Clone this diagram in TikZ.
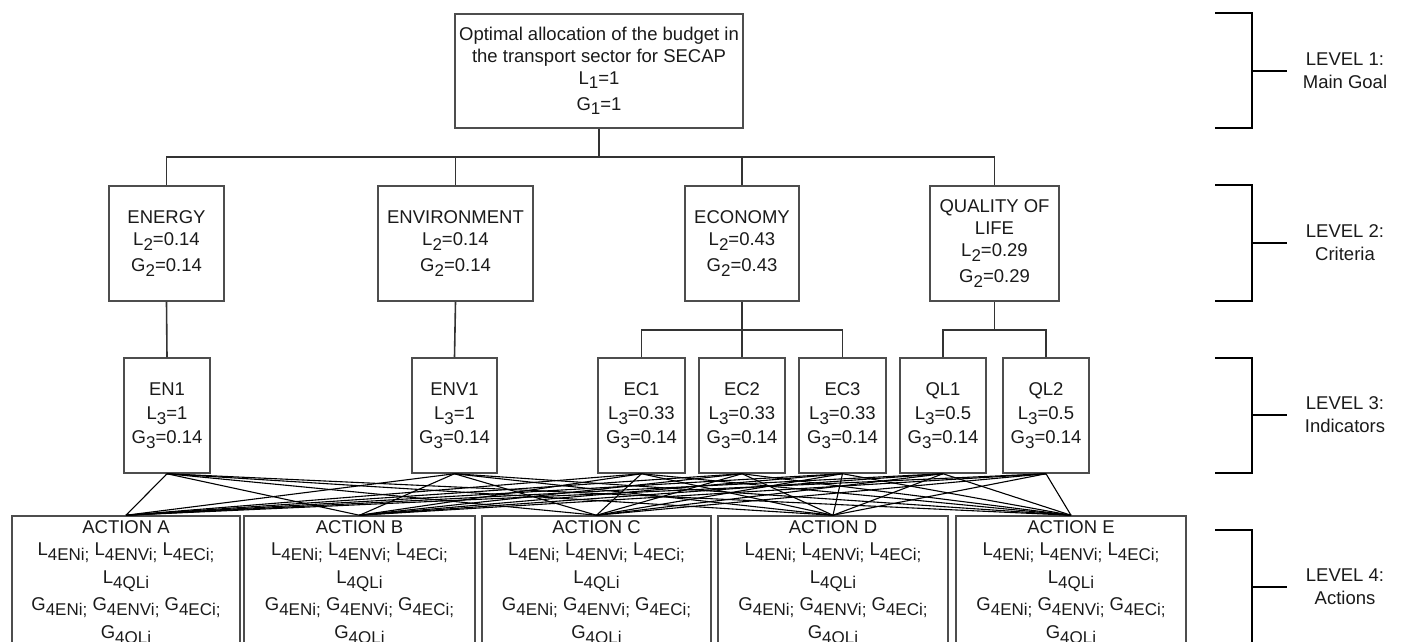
\documentclass[tikz,border=0pt]{standalone}
\usepackage{fontspec}
\setmainfont{Liberation Sans}
\definecolor{boxgray}{HTML}{4D4D4D}
\definecolor{linegray}{HTML}{333333}
\definecolor{txt}{HTML}{1A1A1A}
\newcommand\sbx[1]{\raisebox{-4.5pt}{\fontsize{17}{17}\selectfont #1}}
\newcommand\acttxt[1]{ACTION #1\\L\sbx{4ENi;} L\sbx{4ENVi;} L\sbx{4ECi;}\\[6pt]L\sbx{4QLi}\\[5pt]G\sbx{4ENi;} G\sbx{4ENVi;} G\sbx{4ECi;}\\[6pt]G\sbx{4QLi}}
\begin{document}
\begin{tikzpicture}[x=1pt,y=-1pt,
  box/.style={draw=boxgray, line width=1.5pt, rectangle, inner sep=0pt, align=center, text=txt, font=\fontsize{18.5}{22}\selectfont},
  lvtwo/.style={box, minimum width=#1, minimum height=115pt},
  lvthree/.style={box, minimum width=#1, minimum height=115pt},
  actbox/.style={box, minimum width=#1, minimum height=135pt},
  tree/.style={draw=linegray, line width=1.6pt},
  mesh/.style={draw=black, line width=1.1pt},
  brk/.style={draw=black, line width=2.4pt},
  lvl/.style={align=center, text=txt, font=\fontsize{18.5}{23}\selectfont}]
\useasboundingbox (0,0) rectangle (1401,642);
\clip (0,0) rectangle (1401,642);

% Level 1
\node[box, minimum width=288pt, minimum height=114pt] (goal) at (599,71)
  {Optimal allocation of the budget in\\the transport sector for SECAP\\L\sbx{1}=1\\[4pt]G\sbx{1}=1};

% Level 2
\node[lvtwo=115pt] (energy) at (166.5,243.5) {ENERGY\\L\sbx{2}=0.14\\[4pt]G\sbx{2}=0.14};
\node[lvtwo=155pt] (env) at (455.5,243.5) {ENVIRONMENT\\L\sbx{2}=0.14\\[4pt]G\sbx{2}=0.14};
\node[lvtwo=114pt] (econ) at (742,243.5) {ECONOMY\\L\sbx{2}=0.43\\[4pt]G\sbx{2}=0.43};
\node[lvtwo=129pt] (qol) at (994.5,243.5) {QUALITY OF\\LIFE\\L\sbx{2}=0.29\\[4pt]G\sbx{2}=0.29};

% Level 3
\node[lvthree=86pt] (en1) at (167,415.5) {EN1\\[2pt]L\sbx{3}=1\\[2pt]G\sbx{3}=0.14};
\node[lvthree=85pt] (env1) at (454.5,415.5) {ENV1\\[2pt]L\sbx{3}=1\\[2pt]G\sbx{3}=0.14};
\node[lvthree=87pt] (ec1) at (641.5,415.5) {EC1\\[2pt]L\sbx{3}=0.33\\[2pt]G\sbx{3}=0.14};
\node[lvthree=86pt] (ec2) at (742,415.5) {EC2\\[2pt]L\sbx{3}=0.33\\[2pt]G\sbx{3}=0.14};
\node[lvthree=87pt] (ec3) at (842.5,415.5) {EC3\\[2pt]L\sbx{3}=0.33\\[2pt]G\sbx{3}=0.14};
\node[lvthree=86pt] (ql1) at (943,415.5) {QL1\\[2pt]L\sbx{3}=0.5\\[2pt]G\sbx{3}=0.14};
\node[lvthree=86pt] (ql2) at (1046,415.5) {QL2\\[2pt]L\sbx{3}=0.5\\[2pt]G\sbx{3}=0.14};

% Level 4
\node[actbox=228pt] (aa) at (126,583.5) {\acttxt{A}};
\node[actbox=231pt] (ab) at (359.5,583.5) {\acttxt{B}};
\node[actbox=229pt] (ac) at (596.5,583.5) {\acttxt{C}};
\node[actbox=230pt] (ad) at (833,583.5) {\acttxt{D}};
\node[actbox=230pt] (ae) at (1071,583.5) {\acttxt{E}};

% Tree connectors
\coordinate (bus) at (599,157);
\draw[tree] (goal.south) -- (bus);
\draw[tree] (energy.north) |- (bus);
\draw[tree] (env.north) |- (bus);
\draw[tree] (econ.north) |- (bus);
\draw[tree] (qol.north) |- (bus);
\draw[tree] (energy.south) -- (en1.north);
\draw[tree] (env.south) -- (env1.north);
\coordinate (busE) at (742,330);
\draw[tree] (econ.south) -- (busE);
\draw[tree] (ec1.north) |- (busE);
\draw[tree] (ec2.north) -- (busE);
\draw[tree] (ec3.north) |- (busE);
\coordinate (busQ) at (994.5,330);
\draw[tree] (qol.south) -- (busQ);
\draw[tree] (ql1.north) |- (busQ);
\draw[tree] (ql2.north) |- (busQ);

% Mesh between indicators and actions
\foreach \s in {en1,env1,ec1,ec2,ec3,ql1,ql2}
  \foreach \t in {aa,ab,ac,ad,ae}
    \draw[mesh] (\s.south) -- (\t.north);

% Level brackets
\draw[brk] (1215,13) -- (1252,13) -- (1252,128) -- (1215,128);
\draw[brk] (1252,71) -- (1287,71);
\node[lvl] (l1) at (1345,71) {LEVEL 1:\\Main Goal};
\draw[brk] (1215,185) -- (1252,185) -- (1252,301) -- (1215,301);
\draw[brk] (1252,243) -- (1287,243);
\node[lvl] (l2) at (1345,243) {LEVEL 2:\\Criteria};
\draw[brk] (1215,358) -- (1252,358) -- (1252,473) -- (1215,473);
\draw[brk] (1252,415) -- (1287,415);
\node[lvl] (l3) at (1345,415) {LEVEL 3:\\Indicators};
\draw[brk] (1215,530) -- (1252,530) -- (1252,660);
\draw[brk] (1252,587) -- (1287,587);
\node[lvl] (l4) at (1345,587) {LEVEL 4:\\Actions};
\end{tikzpicture}
\end{document}
